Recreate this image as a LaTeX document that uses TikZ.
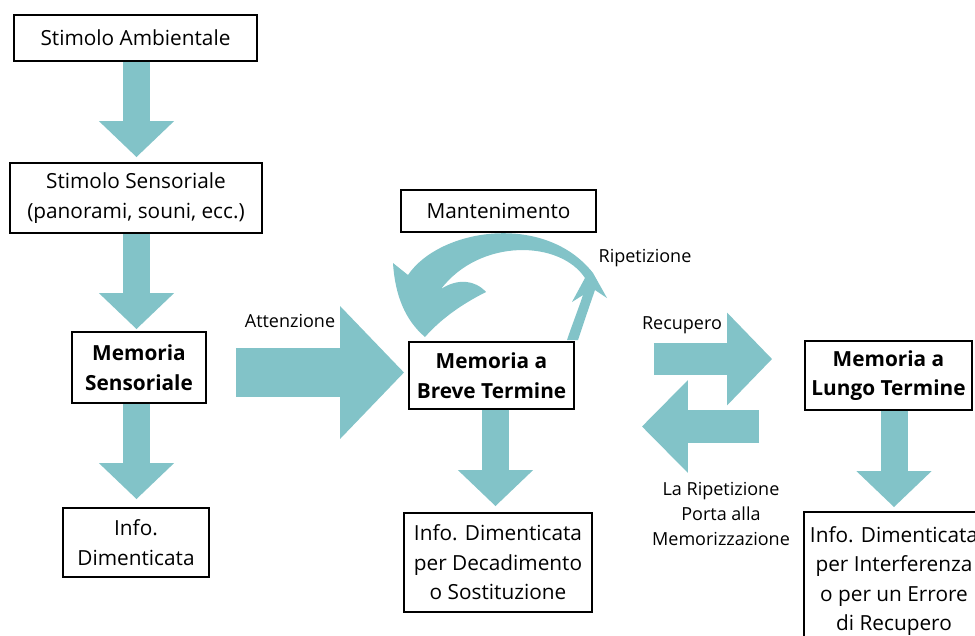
\documentclass[tikz,border=0pt]{standalone}
\usepackage{fontspec}
\setmainfont{Open Sans}
\usetikzlibrary{arrows.meta}
\definecolor{teal1}{RGB}{130,195,200}
\begin{document}
\begin{tikzpicture}[x=1pt,y=-1pt,
  box/.style={draw=black,line width=1.8pt,fill=white,inner sep=0pt,align=center,
    font=\fontsize{20.8}{29.5}\selectfont},
  bbox/.style={box,font=\fontsize{20.8}{29.5}\selectfont\bfseries},
  lbl/.style={align=center,inner sep=0pt,font=\fontsize{18}{25}\selectfont},
  fatv/.style={draw=teal1,line width=27pt,-{Triangle[width=73pt,length=36pt]}},
]
\useasboundingbox (0,0) rectangle (975,635);
\clip (0,0) rectangle (975,635);
\fill[white] (0,0) rectangle (975,635);

% curved arrow (drawn first, boxes cover it)
\fill[teal1] (408,275) .. controls (440,228) and (545,212) .. (593,273)
  -- (607,298) -- (595,290) .. controls (588,310) and (582,328) .. (578,340)
  -- (567,340) .. controls (572,325) and (578,310) .. (583,295)
  -- (572,302) -- (585,278) .. controls (560,240) and (480,238) .. (441,289)
  .. controls (458,278) and (475,280) .. (486,292)
  .. controls (460,305) and (440,320) .. (425,337)
  .. controls (405,320) and (395,295) .. (393,263) -- cycle;

\node[box,minimum width=243pt,minimum height=46pt] (sa) at (135.5,38) {Stimolo Ambientale};
\node[box,minimum width=252pt,minimum height=70pt] (ss) at (136,198) {Stimolo Sensoriale\\(panorami, souni, ecc.)};
\node[bbox,minimum width=134pt,minimum height=71pt] (ms) at (139,367.5) {Memoria\\Sensoriale};
\node[box,minimum width=146pt,minimum height=69pt] (id1) at (136,542.5) {Info.\\Dimenticata};
\node[box,minimum width=195pt,minimum height=42pt] (man) at (498.5,211) {Mantenimento};
\node[bbox,minimum width=165pt,minimum height=67pt] (bt) at (491.5,375.5) {Memoria a\\Breve Termine};
\node[box,minimum width=188pt,minimum height=99pt] (id2) at (498,562.5) {Info. Dimenticata\\per Decadimento\\o Sostituzione};
\node[bbox,minimum width=167pt,minimum height=69pt] (lt) at (888.5,375.5) {Memoria a\\Lungo Termine};
\node[box,minimum width=180pt,minimum height=138pt] (id3) at (894,581) {Info. Dimenticata\\per Interferenza\\o per un Errore\\di Recupero};

% vertical fat arrows
\draw[fatv,shorten >=5pt] ([xshift=1pt]sa.south) -- ([xshift=1pt]sa.south |- ss.north);
\draw[fatv,shorten >=2pt] ([xshift=0.5pt]ss.south) -- ([xshift=0.5pt]ss.south |- ms.north);
\draw[fatv,shorten >=8pt] ([xshift=-2.5pt]ms.south) -- ([xshift=-2.5pt]ms.south |- id1.north);
\draw[fatv,shorten >=6pt] ([xshift=4pt]bt.south) -- ([xshift=4pt]bt.south |- id2.north);
\draw[fatv,shorten >=4pt] ([xshift=5.5pt]lt.south) -- ([xshift=5.5pt]lt.south |- id3.north);

% horizontal fat arrows
\draw[draw=teal1,line width=49pt,-{Triangle[width=129pt,length=64pt]},shorten >=4pt]
  ([xshift=29pt,yshift=3pt]ms.east |- bt.west) -- ([yshift=3pt]bt.west);
\draw[draw=teal1,line width=32pt,-{Triangle[width=90pt,length=45pt]}]
  ([xshift=79pt,yshift=16.5pt]bt.east) -- ([xshift=-32pt,yshift=16.5pt]lt.west);
\draw[draw=teal1,line width=33pt,-{Triangle[width=90pt,length=46pt]}]
  ([xshift=-45pt,yshift=-51pt]lt.west) -- ([xshift=67pt,yshift=-51pt]bt.east);

% labels
\node[lbl] (latt) at (290,321) {Attenzione};
\node[lbl] (lrip) at (645,258) {Ripetizione};
\node[lbl] (lrec) at (682,325) {Recupero};
\node[lbl] (lmem) at (721,514) {La Ripetizione\\Porta alla\\Memorizzazione};
\end{tikzpicture}
\end{document}
